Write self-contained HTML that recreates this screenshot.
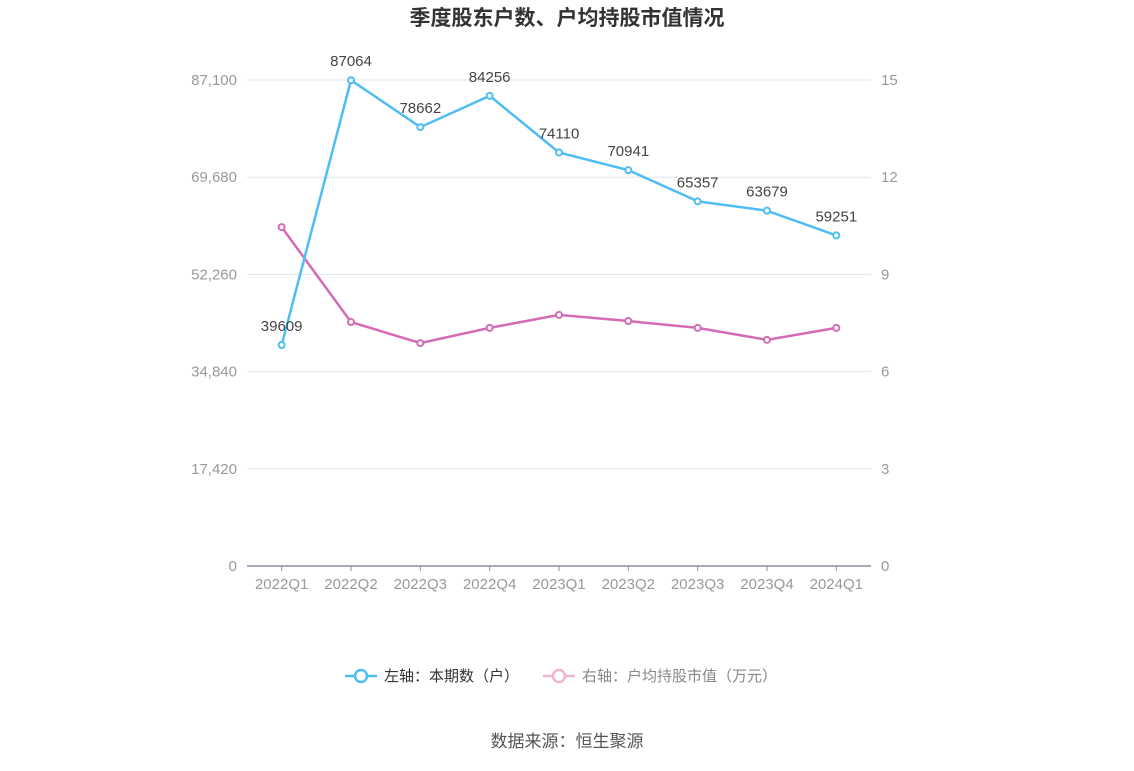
<!DOCTYPE html>
<html><head><meta charset="utf-8"><style>
body{margin:0;background:#fff;font-family:"Liberation Sans","Noto Sans CJK SC",sans-serif;}
svg text{font-family:"Liberation Sans","Noto Sans CJK SC",sans-serif;}
</style></head><body>
<svg id="c" width="1134" height="766" xmlns="http://www.w3.org/2000/svg">
<text x="567" y="25" text-anchor="middle" font-size="21" font-weight="bold" fill="#333">季度股东户数、户均持股市值情况</text>
<g id="grid"></g><g id="axes"></g><g id="series"></g>
<g>
<g>
<line x1="345" y1="676" x2="377" y2="676" stroke="#4fbdf5" stroke-width="2.5"/><circle cx="361" cy="676" r="6" fill="#fff" stroke="#4fbdf5" stroke-width="2.5"/>
<text x="384" y="681" font-size="15" fill="#333">左轴：本期数（户）</text></g>
<g>
<line x1="543" y1="676" x2="575" y2="676" stroke="#f0b4d6" stroke-width="2.5"/><circle cx="559" cy="676" r="6" fill="#fff" stroke="#f0b4d6" stroke-width="2.5"/>
<text x="582" y="681" font-size="15" fill="#888">右轴：户均持股市值（万元）</text></g>
</g>
<text x="567" y="747" text-anchor="middle" font-size="17" fill="#555">数据来源：恒生聚源</text>
</svg>
<script>
const categories=["2022Q1","2022Q2","2022Q3","2022Q4","2023Q1","2023Q2","2023Q3","2023Q4","2024Q1"];
const holders=[39609,87064,78662,84256,74110,70941,65357,63679,59251];
const avgValue=[10.46,7.53,6.88,7.35,7.75,7.56,7.35,6.98,7.35];
const leftTicks=[0,17420,34840,52260,69680,87100];
const rightTicks=[0,3,6,9,12,15];
const NS="http://www.w3.org/2000/svg";
const x0=247,x1=871,yTop=80,yBot=566;
const step=(x1-x0)/categories.length;
const xs=i=>x0+step*(i+0.5);
const yL=v=>yBot-(v/87100)*(yBot-yTop);
const yR=v=>yBot-(v/15)*(yBot-yTop);
function mk(tag,attrs,parent){const e=document.createElementNS(NS,tag);for(const k in attrs)e.setAttribute(k,attrs[k]);parent.appendChild(e);return e;}
const grid=document.getElementById('grid'),axes=document.getElementById('axes'),ser=document.getElementById('series');
leftTicks.forEach((t,i)=>{
 const y=yL(t);
 if(i>0){const l=mk('line',{x1:x0,x2:x1,y1:y,y2:y,stroke:'#e0e3ee','stroke-width':1},grid);
 
 }
 const tx=mk('text',{x:237,y:y+5,'text-anchor':'end','font-size':15,fill:'#999'},axes);tx.textContent=t.toLocaleString('en-US');
 
 
});
rightTicks.forEach(t=>{
 const tx=mk('text',{x:881,y:yR(t)+5,'font-size':15,fill:'#999'},axes);tx.textContent=t;
 
 
});
const ax=mk('line',{x1:x0,x2:x1,y1:yBot,y2:yBot,stroke:'#8a8fa6','stroke-width':1.5},axes);


categories.forEach((c,i)=>{
 const tk=mk('line',{x1:xs(i),x2:xs(i),y1:yBot,y2:yBot+5,stroke:'#8a8fa6'},axes);
 
 
 const tx=mk('text',{x:xs(i),y:589,'text-anchor':'middle','font-size':15,fill:'#999'},axes);tx.textContent=c;
 
 
});
function line(vals,yf,color,name,labels){
 const p=mk('polyline',{points:vals.map((v,i)=>xs(i)+','+yf(v)).join(' '),fill:'none',stroke:color,'stroke-width':2.5},ser);
 
 
 vals.forEach((v,i)=>{
  const c=mk('circle',{cx:xs(i),cy:yf(v),r:3,fill:'#fff',stroke:color,'stroke-width':2},ser);
  
  
  if(labels){const t=mk('text',{x:xs(i),y:yf(v)-14,'text-anchor':'middle','font-size':15,fill:'#444'},ser);t.textContent=v;
  
  }
 });
}
line(avgValue,yR,'#d46bb5','avg-value',false);
line(holders,yL,'#4fbdf5','holders',true);
</script>
</body></html>
